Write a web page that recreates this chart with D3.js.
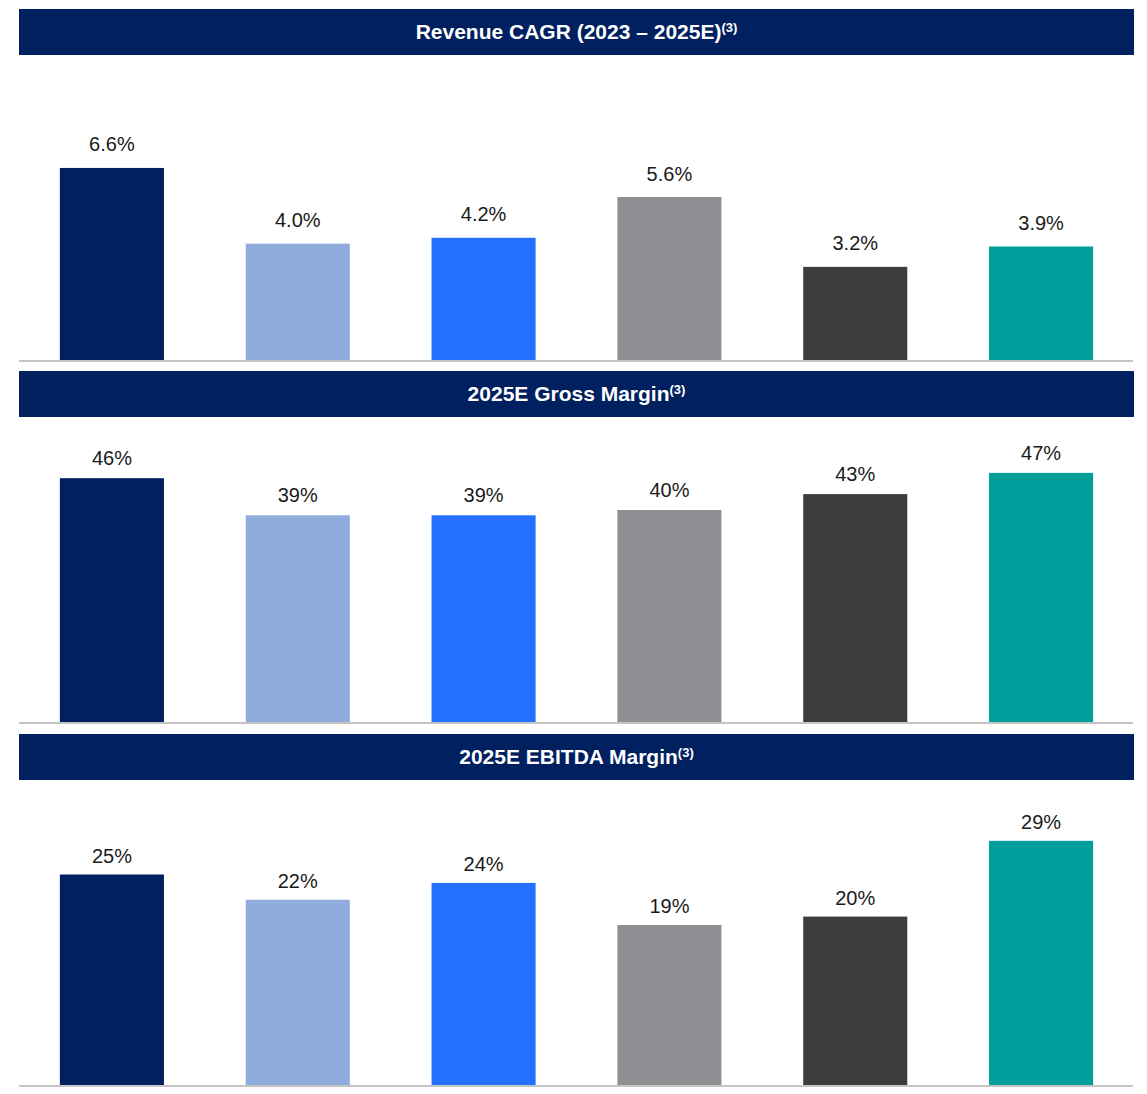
<!DOCTYPE html>
<html>
<head>
<meta charset="utf-8">
<script src="https://cdn.jsdelivr.net/npm/d3@7"></script>
<style>
  html, body { margin: 0; padding: 0; background: #ffffff; }
  svg { display: block; }
  text { font-family: "Liberation Sans", Arial, Helvetica, sans-serif; }
</style>
</head>
<body>
<svg id="chart" width="1147" height="1094"></svg>
<script>
// Peer companies (one bar per company, same order and colour in every panel)
const companies = ["A", "B", "C", "D", "E", "F"];
const companyColors = ["#00205f", "#8facdc", "#2371fe", "#8e8f93", "#3d3d3f", "#009e9a"];

// Panel titles (the "(3)" footnote marker is drawn as a superscript)
const panelTitles = ["Revenue CAGR (2023 \u2013 2025E)", "2025E Gross Margin", "2025E EBITDA Margin"];
const footnoteMark = "(3)";

// Values, in percent
const revenueCagr = [6.6, 4.0, 4.2, 5.6, 3.2, 3.9];
const grossMargin = [46, 39, 39, 40, 43, 47];
const ebitdaMargin = [25, 22, 24, 19, 20, 29];

// Value label text for each panel
const revenueCagrLabels = ["6.6%", "4.0%", "4.2%", "5.6%", "3.2%", "3.9%"];
const grossMarginLabels = ["46%", "39%", "39%", "40%", "43%", "47%"];
const ebitdaMarginLabels = ["25%", "22%", "24%", "19%", "20%", "29%"];

const panels = [
  { title: panelTitles[0], values: revenueCagr, labels: revenueCagrLabels, domainMax: 7, top: 9, pxPerUnit: 29.1, labelGap: 16.5 },
  { title: panelTitles[1], values: grossMargin, labels: grossMarginLabels, domainMax: 50, top: 371, pxPerUnit: 5.3, labelGap: 13 },
  { title: panelTitles[2], values: ebitdaMargin, labels: ebitdaMarginLabels, domainMax: 30, top: 734, pxPerUnit: 8.42, labelGap: 12 }
];

const svg = d3.select("#chart");
const left = 19, right = 1134;
const headerH = 46;
const baselineOffset = 351; // from header top to the axis line

const x = d3.scaleBand()
  .domain(companies)
  .range([left, right])
  .paddingInner(0.44)
  .paddingOuter(0.22);

const color = d3.scaleOrdinal().domain(companies).range(companyColors);

panels.forEach(p => {
  const g = svg.append("g");
  const base = p.top + baselineOffset;

  // Header band with title
  g.append("rect")
    .attr("x", left).attr("y", p.top)
    .attr("width", right - left).attr("height", headerH)
    .attr("fill", "#00205f");

  const t = g.append("text")
    .attr("x", (left + right) / 2)
    .attr("y", p.top + 29.5)
    .attr("text-anchor", "middle")
    .attr("fill", "#ffffff")
    .attr("font-weight", "bold")
    .attr("font-size", 21)
    .text(p.title);
  t.append("tspan")
    .attr("font-size", 13)
    .attr("dy", -7)
    .text(footnoteMark);

  const y = d3.scaleLinear()
    .domain([0, p.domainMax])
    .range([base, base - p.domainMax * p.pxPerUnit]);

  const data = companies.map((c, i) => ({ c, v: p.values[i], label: p.labels[i] }));

  g.selectAll("rect.bar")
    .data(data)
    .join("rect")
    .attr("class", "bar")
    .attr("x", d => x(d.c))
    .attr("width", x.bandwidth())
    .attr("y", d => y(d.v))
    .attr("height", d => y(0) - y(d.v))
    .attr("fill", d => color(d.c));

  g.selectAll("text.value")
    .data(data)
    .join("text")
    .attr("class", "value")
    .attr("x", d => x(d.c) + x.bandwidth() / 2)
    .attr("y", d => y(d.v) - p.labelGap)
    .attr("text-anchor", "middle")
    .attr("font-size", 20)
    .attr("fill", "#1a1a1a")
    .text(d => d.label);

  // Axis line
  g.append("line")
    .attr("x1", left).attr("x2", right - 1)
    .attr("y1", base + 1).attr("y2", base + 1)
    .attr("stroke", "#c4c4c4")
    .attr("stroke-width", 2);
});
</script>
</body>
</html>
